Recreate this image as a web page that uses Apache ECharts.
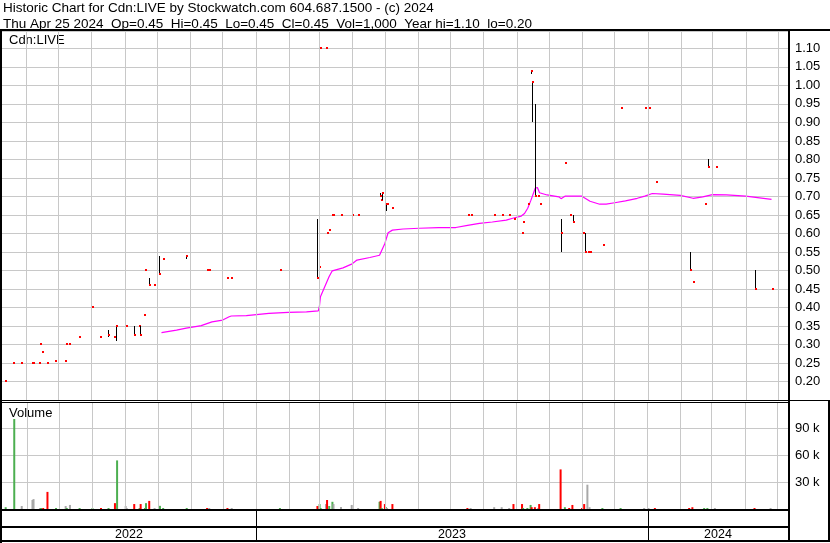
<!DOCTYPE html>
<html><head><meta charset="utf-8">
<script src="https://cdn.jsdelivr.net/npm/echarts@6/dist/echarts.min.js"></script>
<style>html,body{margin:0;padding:0;background:#fff;overflow:hidden}#c{width:830px;height:543px}</style>
</head><body><div id="c"></div>
<script>
// ---- data ----
const dates = ['2022-05-12','2022-05-20','2022-05-27','2022-06-06','2022-06-07','2022-06-13','2022-06-14','2022-06-16','2022-06-20','2022-06-28',
 '2022-07-07','2022-07-08','2022-07-11','2022-07-20','2022-08-01','2022-08-09','2022-08-16','2022-08-22','2022-08-24','2022-09-01',
 '2022-09-02','2022-09-09','2022-09-14','2022-09-15','2022-09-19','2022-09-20','2022-09-23','2022-09-28','2022-10-03','2022-10-06',
 '2022-10-28','2022-11-16','2022-11-18','2022-12-05','2022-12-09','2023-01-23','2023-02-27','2023-03-01','2023-03-02','2023-03-07',
 '2023-03-08','2023-03-10','2023-03-13','2023-03-14','2023-03-21','2023-03-31','2023-04-06','2023-04-26','2023-04-27','2023-04-28',
 '2023-05-01','2023-05-02','2023-05-03','2023-05-08','2023-07-17','2023-07-20','2023-08-11','2023-08-18','2023-08-25','2023-08-29',
 '2023-09-06','2023-09-07','2023-09-11','2023-09-14','2023-09-15','2023-09-18','2023-09-21','2023-09-22','2023-10-12','2023-10-16',
 '2023-10-20','2023-10-23','2023-11-01','2023-11-03','2023-11-06','2023-11-08','2023-11-20','2023-12-07','2023-12-29','2024-01-02',
 '2024-01-08','2024-02-09','2024-02-12','2024-02-23','2024-02-26','2024-03-04','2024-04-10','2024-04-25'];
const highs = [0.20,0.25,0.25,0.25,0.25,0.25,0.30,0.28,0.25,0.255,
 0.255,0.30,0.30,0.32,0.40,0.32,0.34,0.32,0.35,0.35,
 0.35,0.35,0.35,0.35,0.38,0.50,0.48,0.46,0.54,0.53,
 0.54,0.50,0.50,0.48,0.48,0.50,0.64,0.51,1.10,1.10,
 0.60,0.61,0.65,0.65,0.65,0.65,0.65,0.71,0.69,0.71,
 0.67,0.68,0.68,0.67,0.65,0.65,0.65,0.65,0.65,0.64,
 0.60,0.63,0.68,1.04,1.01,0.95,0.70,0.68,0.64,0.79,
 0.65,0.65,0.60,0.60,0.55,0.55,0.57,0.94,0.94,0.94,
 0.74,0.55,0.47,0.68,0.80,0.78,0.50,0.45];
const lows = [0.20,0.25,0.25,0.25,0.25,0.25,0.30,0.28,0.25,0.255,
 0.255,0.30,0.30,0.32,0.40,0.32,0.32,0.32,0.31,0.35,
 0.35,0.325,0.35,0.325,0.38,0.50,0.46,0.46,0.49,0.53,
 0.53,0.50,0.50,0.48,0.48,0.50,0.48,0.51,1.10,1.10,
 0.60,0.61,0.65,0.65,0.65,0.60,0.65,0.70,0.69,0.69,
 0.67,0.66,0.68,0.67,0.65,0.65,0.65,0.65,0.65,0.64,
 0.60,0.63,0.68,1.03,0.90,0.70,0.70,0.68,0.55,0.79,
 0.65,0.63,0.60,0.55,0.55,0.55,0.57,0.94,0.94,0.94,
 0.74,0.50,0.47,0.68,0.78,0.78,0.45,0.45];
const closes = [0.20,0.25,0.25,0.25,0.25,0.25,0.30,0.28,0.25,0.255,
 0.255,0.30,0.30,0.32,0.40,0.32,0.325,0.32,0.35,0.35,
 0.35,0.325,0.35,0.325,0.38,0.50,0.46,0.46,0.49,0.53,
 0.54,0.50,0.50,0.48,0.48,0.50,0.48,0.51,1.10,1.10,
 0.60,0.61,0.65,0.65,0.65,0.65,0.65,0.70,0.69,0.71,
 0.67,0.68,0.68,0.67,0.65,0.65,0.65,0.65,0.65,0.64,
 0.60,0.63,0.68,1.04,1.01,0.70,0.70,0.68,0.60,0.79,
 0.65,0.63,0.60,0.55,0.55,0.55,0.57,0.94,0.94,0.94,
 0.74,0.50,0.47,0.68,0.78,0.78,0.45,0.45];
const volumes = [2000,100000,3300,10000,11000,1000,1000,1000,19000,1000,
 3300,1000,4500,1000,1000,1000,1000,6500,54000,3300,
 600,5500,1000,5500,1000,6500,9000,1000,3500,1000,
 1000,1000,1000,1000,1000,1000,3300,5500,1000,5500,
 10000,3300,8000,5500,2200,4500,1000,8000,9000,1000,
 5500,2000,1000,5500,1000,1000,2000,2000,1000,5500,
 5500,1000,1000,4500,2000,2000,1000,5500,44000,2000,
 1000,4500,1000,5500,27000,2000,1000,1000,1000,1000,
 1000,1000,2000,1000,1000,1000,1000,1000];
const maDates = ['2022-10-05','2022-10-19','2022-10-28','2022-11-07','2022-11-11','2022-11-17','2022-11-21','2022-12-01','2022-12-07','2022-12-09',
 '2022-12-23','2022-12-30','2023-01-13','2023-01-31','2023-02-17','2023-02-28','2023-03-01','2023-03-02','2023-03-06','2023-03-10',
 '2023-03-13','2023-03-23','2023-03-31','2023-04-05','2023-04-17','2023-04-26','2023-04-27','2023-05-01','2023-05-04','2023-05-08',
 '2023-05-18','2023-06-02','2023-06-20','2023-07-06','2023-07-17','2023-07-28','2023-08-09','2023-08-22','2023-08-28','2023-09-05',
 '2023-09-08','2023-09-11','2023-09-14','2023-09-18','2023-09-20','2023-09-22','2023-09-29','2023-10-10','2023-10-12','2023-10-16',
 '2023-10-31','2023-11-08','2023-11-17','2023-11-23','2023-12-01','2023-12-11','2023-12-22','2023-12-29','2024-01-05','2024-01-15',
 '2024-01-31','2024-02-12','2024-02-21','2024-03-01','2024-03-14','2024-04-01','2024-04-12','2024-04-25'];
const maValues = [0.332,0.339,0.344,0.349,0.351,0.357,0.361,0.366,0.375,0.377,
 0.378,0.380,0.384,0.387,0.388,0.391,0.402,0.429,0.456,0.483,
 0.499,0.507,0.517,0.528,0.535,0.541,0.546,0.573,0.602,0.609,
 0.612,0.614,0.616,0.616,0.622,0.627,0.631,0.636,0.641,0.647,
 0.654,0.668,0.690,0.722,0.724,0.710,0.704,0.699,0.694,0.701,
 0.701,0.687,0.679,0.679,0.683,0.688,0.695,0.701,0.708,0.706,
 0.703,0.695,0.699,0.705,0.704,0.701,0.697,0.692];
const monthLines = ['2022-06-01','2022-07-01','2022-08-01','2022-09-01','2022-10-01','2022-11-01','2022-12-01',
 '2023-01-01','2023-02-01','2023-03-01','2023-04-01','2023-05-01','2023-06-01','2023-07-01','2023-08-01','2023-09-01','2023-10-01','2023-11-01','2023-12-01',
 '2024-01-01','2024-02-01','2024-03-01','2024-04-01','2024-05-01'];
const yearLabels = ['2022','2023','2024'];
const yearBounds = ['2022-05-09 12:00','2023-01-01','2024-01-01','2024-05-10 08:00'];
const header1 = 'Historic Chart for Cdn:LIVE by Stockwatch.com 604.687.1500 - (c) 2024';
const header2 = 'Thu Apr 25 2024  Op=0.45  Hi=0.45  Lo=0.45  Cl=0.45  Vol=1,000  Year hi=1.10  lo=0.20';
const symbolName = 'Cdn:LIVE';
const volumeName = 'Volume';

// ---- build ----
const FONT = "'Liberation Sans', Arial, sans-serif";
const HFONT = '13.5px ' + FONT;
const GRID_C = '#c8c8c8';
const xMin = yearBounds[0], xMax = yearBounds[yearBounds.length - 1];
const ohlc = dates.map((d, i) => [d, highs[i], lows[i], closes[i]]);
const volData = dates.map((d, i) => {
  let col = '#4caf50';
  if (i > 0) col = closes[i] > closes[i-1] ? '#4caf50' : (closes[i] < closes[i-1] ? '#ff0000' : '#a8a8a8');
  return { value: [d, volumes[i]], itemStyle: { color: col } };
});
const monthMark = {
  silent: true, symbol: ['none', 'none'], label: { show: false },
  lineStyle: { color: GRID_C, width: 1, type: 'solid' }, emphasis: { disabled: true },
  animation: false,
  data: monthLines.map(m => ({ xAxis: m }))
};
const hiddenX = (gi) => ({
  type: 'time', gridIndex: gi, min: xMin, max: xMax,
  axisLabel: { show: false }, axisTick: { show: false }, axisLine: { show: false }, splitLine: { show: false }
});

const graphics = [
  { type: 'text', left: 3, top: 1, style: { text: header1, font: HFONT, fill: '#000' } },
  { type: 'text', left: 3, top: 17, style: { text: header2, font: HFONT, fill: '#000' } },
  { type: 'text', left: 9, top: 34, style: { text: symbolName, font: '13px ' + FONT, fill: '#000' } },
  { type: 'text', left: 9, top: 407, style: { text: volumeName, font: '13px ' + FONT, fill: '#000' } }
];
[
  [0, 29, 830, 2], [0, 29, 2, 514], [788, 29, 2, 513], [0, 400, 830, 1], [0, 402, 790, 1],
  [0, 509, 790, 2], [0, 526, 790, 2], [0, 540, 830, 2], [828, 400, 2, 142]
].forEach(r => graphics.push({ type: 'rect', z: 100, shape: { x: r[0], y: r[1], width: r[2], height: r[3] }, style: { fill: '#000' } }));

const chart = echarts.init(document.getElementById('c'), null, { renderer: 'canvas' });
chart.setOption({
  animation: false,
  backgroundColor: '#fff',
  textStyle: { fontFamily: FONT },
  grid: [
    { left: 2, top: 31, width: 786, height: 369 },
    { left: 2, top: 402, width: 786, height: 107 },
    { left: 2, top: 509, width: 786, height: 32 }
  ],
  xAxis: [hiddenX(0), hiddenX(1), hiddenX(2)],
  yAxis: [
    { type: 'value', gridIndex: 0, position: 'right', min: 0.15, max: 1.147, interval: 0.05,
      axisLine: { show: false }, axisTick: { show: false },
      splitLine: { show: true, lineStyle: { color: GRID_C, width: 1 } },
      axisLabel: { show: true, align: 'left', margin: 7, color: '#000', fontSize: 13, fontFamily: FONT,
        formatter: v => (v > 0.18 && v < 1.12) ? v.toFixed(2) : '' } },
    { type: 'value', gridIndex: 1, position: 'right', min: 0, max: 118900, interval: 30000,
      axisLine: { show: false }, axisTick: { show: false },
      splitLine: { show: true, lineStyle: { color: GRID_C, width: 1 } },
      axisLabel: { show: true, align: 'left', margin: 7, color: '#000', fontSize: 13, fontFamily: FONT,
        formatter: v => (v > 0 && v < 100000) ? (v / 1000) + ' k' : '' } },
    { type: 'value', gridIndex: 2, min: 0, max: 1, show: false }
  ],
  series: [
    { type: 'line', name: 'MA', xAxisIndex: 0, yAxisIndex: 0, z: 3,
      data: maDates.map((d, i) => [d, maValues[i]]),
      showSymbol: false, symbol: 'none', lineStyle: { color: '#ff00ff', width: 1.2 },
      markLine: monthMark },
    { type: 'custom', name: 'Price', xAxisIndex: 0, yAxisIndex: 0, z: 4,
      data: ohlc, encode: { x: 0, y: [1, 2, 3] },
      renderItem: function (params, api) {
        const t = api.value(0);
        const hi = api.coord([t, api.value(1)]);
        const lo = api.coord([t, api.value(2)]);
        const cl = api.coord([t, api.value(3)]);
        const px = Math.round(hi[0]);
        const ch = [];
        if (api.value(1) !== api.value(2)) {
          const y0 = Math.round(hi[1]), y1 = Math.round(lo[1]);
          ch.push({ type: 'rect', shape: { x: px, y: y0, width: 1, height: y1 - y0 }, style: { fill: '#000' } });
        }
        ch.push({ type: 'rect', shape: { x: px, y: Math.round(cl[1]) - 1, width: 2, height: 2 }, style: { fill: '#ff0000' } });
        return { type: 'group', children: ch };
      } },
    { type: 'bar', name: 'Volume', xAxisIndex: 1, yAxisIndex: 1, z: 3,
      data: volData, barWidth: 2, barMinHeight: 1,
      markLine: monthMark },
    { type: 'line', name: 'Years', xAxisIndex: 2, yAxisIndex: 2, data: [], z: 5,
      markArea: { silent: true, itemStyle: { color: 'rgba(0,0,0,0)' },
        label: { show: true, position: 'insideBottom', distance: 0, color: '#000', fontSize: 12.5, fontFamily: FONT },
        data: yearLabels.map((y, i) => [{ name: y, xAxis: yearBounds[i] }, { xAxis: yearBounds[i + 1] }]) },
      markLine: { silent: true, symbol: ['none', 'none'], label: { show: false },
        lineStyle: { color: '#000', width: 1, type: 'solid' },
        data: yearBounds.slice(1, -1).map(b => ({ xAxis: b })) } }
  ],
  graphic: graphics
});
</script></body></html>
